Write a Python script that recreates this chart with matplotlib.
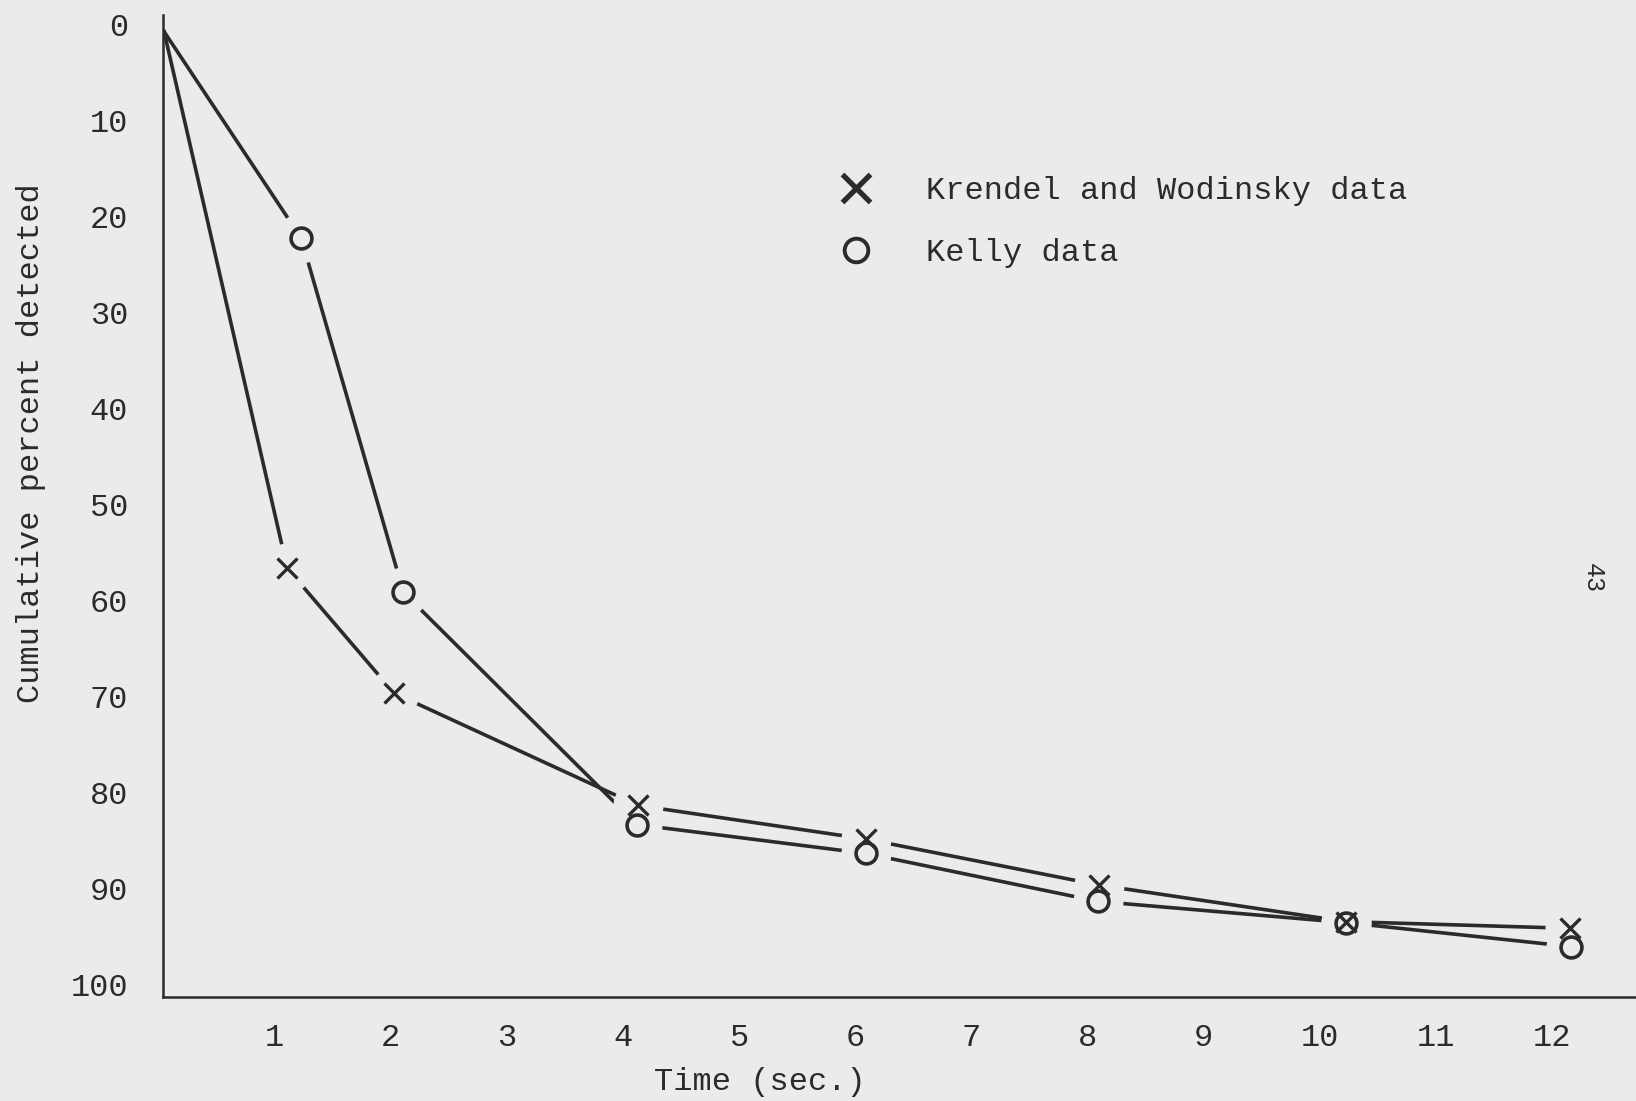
import matplotlib
matplotlib.use('Agg')
import matplotlib.pyplot as plt
from matplotlib.lines import Line2D

# values (origin point first)
krendel_time = [0.05, 1.11, 2.03, 4.13, 6.09, 8.10, 10.22, 12.15]
krendel_pct = [0.7, 56.6, 69.6, 81.3, 84.8, 89.6, 93.4, 94.1]
kelly_time = [0.05, 1.23, 2.11, 4.12, 6.09, 8.09, 10.22, 12.16]
kelly_pct = [0.7, 22.2, 59.1, 83.3, 86.3, 91.3, 93.5, 96.0]

x_ticks = list(range(1, 13))
y_ticks = list(range(0, 101, 10))

paper = '#ebebea'
ink = '#2b2b2b'
font = 'Liberation Mono'
fs = 23

fig = plt.figure(figsize=(16.36, 11.01), dpi=100, facecolor=paper)
ax = fig.add_axes([0.0996, 0.0945, 0.9004, 0.8919], facecolor=paper)

ax.plot(krendel_time, krendel_pct, color=ink, lw=2.6, zorder=2)
ax.plot(kelly_time, kelly_pct, color=ink, lw=2.6, zorder=2)

# paper-coloured halo so the lines stop short of the markers
for t, p in [(krendel_time, krendel_pct), (kelly_time, kelly_pct)]:
    ax.plot(t[1:], p[1:], ls='none', marker='o', ms=35, mfc=paper, mec=paper, zorder=3)

ax.plot(krendel_time[1:], krendel_pct[1:], ls='none', marker='x', ms=15,
        mew=2.4, color=ink, zorder=4)
ax.plot(kelly_time[1:], kelly_pct[1:], ls='none', marker='o', ms=15,
        mew=2.6, mfc='none', mec=ink, zorder=4)

ax.set_xlim(0.04, 12.72)
ax.set_ylim(101.25, -1.04)

ax.set_xticks(x_ticks)
ax.set_yticks(y_ticks)
ax.tick_params(length=0, labelsize=fs, colors=ink)
ax.tick_params(axis='y', pad=25)
ax.tick_params(axis='x', pad=19)
for lab in ax.get_xticklabels() + ax.get_yticklabels():
    lab.set_fontfamily(font)

for s in ['top', 'right']:
    ax.spines[s].set_visible(False)
for s in ['left', 'bottom']:
    ax.spines[s].set_color(ink)
    ax.spines[s].set_linewidth(1.8)

fig.text(760 / 1636, 1 - 1082 / 1101, 'Time (sec.)', ha='center', va='center',
         fontsize=fs, family=font, color=ink)
fig.text(31 / 1636, 1 - 443 / 1101, 'Cumulative percent detected', ha='center',
         va='center', rotation=90, fontsize=fs, family=font, color=ink)
fig.text(1593 / 1636, 1 - 578 / 1101, '43', ha='center', va='center',
         rotation=270, fontsize=18, family=font, color=ink)

handles = [
    Line2D([], [], ls='none', marker='x', ms=20, mew=3.8, color=ink),
    Line2D([], [], ls='none', marker='o', ms=17, mew=2.8, mfc='none', mec=ink),
]
leg = ax.legend(handles, ['Krendel and Wodinsky data', 'Kelly data'],
                loc='upper left', bbox_to_anchor=(840 / 1636, 1 - 176 / 1101),
                bbox_transform=fig.transFigure, frameon=False, borderpad=0,
                borderaxespad=0, handlelength=1, handletextpad=1.7,
                labelspacing=1.0, prop={'family': font, 'size': fs})
for t in leg.get_texts():
    t.set_color(ink)

fig.savefig('out.png', dpi=100, facecolor=paper)
